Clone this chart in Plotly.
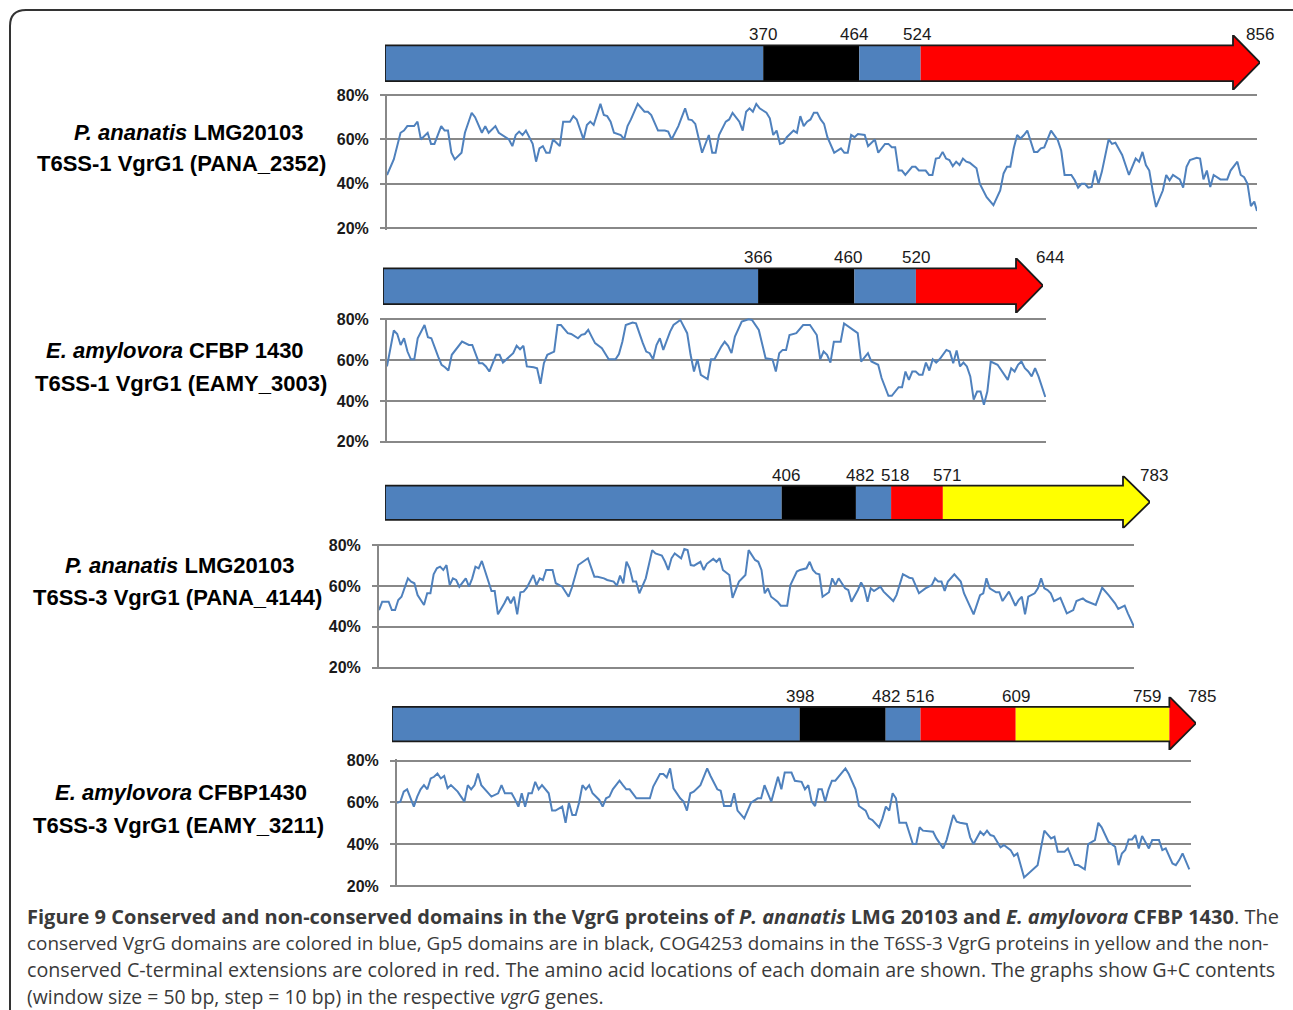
import plotly.graph_objects as go

W, H = 1293, 1010

# ---------------- Data ----------------
gene_len_aa = [856, 644, 783, 785]

# domain boundaries (aa) and domain type of each interval
bounds1 = [0, 370, 464, 524, 856]
types1 = ["VgrG", "Gp5", "VgrG", "extension"]
bounds2 = [0, 366, 460, 520, 644]
types2 = ["VgrG", "Gp5", "VgrG", "extension"]
bounds3 = [0, 406, 482, 518, 571, 783]
types3 = ["VgrG", "Gp5", "VgrG", "extension", "COG4253"]
bounds4 = [0, 398, 482, 516, 609, 759, 785]
types4 = ["VgrG", "Gp5", "VgrG", "extension", "COG4253", "extension"]

species_line1 = ["<b><i>P. ananatis</i> LMG20103</b>",
                 "<b><i>E. amylovora</i> CFBP 1430</b>",
                 "<b><i>P. ananatis</i> LMG20103</b>",
                 "<b><i>E. amylovora</i> CFBP1430</b>"]
species_line2 = ["<b>T6SS-1 VgrG1 (PANA_2352)</b>",
                 "<b>T6SS-1 VgrG1 (EAMY_3003)</b>",
                 "<b>T6SS-3 VgrG1 (PANA_4144)</b>",
                 "<b>T6SS-3 VgrG1 (EAMY_3211)</b>"]

gc_ticks = [20, 40, 60, 80]
gc_ticktext = ["20%", "40%", "60%", "80%"]

# G+C content (window position in bp, % G+C)
gc1_pos = [0, 20, 40, 50, 60, 80, 90, 100, 120, 130,
           140, 160, 170, 180, 190, 200, 220, 230, 250, 260,
           280, 290, 300, 320, 330, 350, 360, 370, 380, 390,
           400, 410, 430, 440, 450, 460, 470, 480, 490, 500,
           510, 520, 540, 550, 560, 580, 590, 600, 610, 630,
           640, 650, 660, 670, 690, 700, 710, 720, 740, 760,
           770, 780, 800, 810, 820, 830, 840, 860, 880, 890,
           900, 910, 930, 950, 960, 970, 980, 1000, 1010, 1020,
           1040, 1050, 1060, 1070, 1080, 1090, 1100, 1120, 1130, 1140,
           1150, 1160, 1170, 1180, 1200, 1210, 1220, 1230, 1240, 1250,
           1260, 1270, 1280, 1290, 1300, 1320, 1340, 1350, 1360, 1370,
           1380, 1390, 1410, 1420, 1440, 1450, 1470, 1480, 1490, 1500,
           1510, 1520, 1530, 1550, 1560, 1570, 1590, 1600, 1610, 1620,
           1630, 1640, 1650, 1660, 1670, 1680, 1690, 1700, 1710, 1720,
           1740, 1750, 1770, 1790, 1810, 1820, 1830, 1840, 1850, 1860,
           1870, 1880, 1890, 1910, 1920, 1930, 1940, 1960, 1970, 1980,
           1990, 2000, 2020, 2030, 2040, 2050, 2060, 2070, 2080, 2090,
           2100, 2110, 2130, 2140, 2150, 2170, 2190, 2210, 2220, 2230,
           2240, 2250, 2260, 2270, 2290, 2300, 2310, 2320, 2340, 2350,
           2360, 2370, 2390, 2400, 2410, 2420, 2430, 2440, 2460, 2480,
           2490, 2510, 2520, 2530, 2540, 2550, 2560, 2568]
gc1_val = [44, 51, 63, 64, 66, 66, 68, 60, 63, 58,
           58, 66, 64, 64, 54, 51, 54, 63, 72, 70,
           63, 66, 63, 66, 63, 61, 60, 57, 62, 63.5,
           62, 64, 58, 50, 56, 57, 54, 54, 60, 58.5,
           57, 68, 68, 70.5, 69, 60, 66.5, 68, 66.5, 76,
           71, 70.5, 68, 63, 62, 60, 66, 69, 76, 72.5,
           72.5, 71, 64, 64, 64, 63.5, 60, 66, 74, 69,
           68.7, 67, 54, 62, 54, 54, 62, 68, 69, 72,
           68, 64, 72.5, 74, 72.5, 76, 74, 72, 69.5, 62,
           64, 58, 58.5, 61, 64, 63, 70.5, 66, 68, 69,
           72, 72, 69, 67, 61, 54, 56, 54, 54, 62,
           61, 62.4, 62, 57, 60, 54, 58, 58, 56.5, 56.5,
           46, 46, 44, 47.7, 47.7, 46, 46, 44, 44, 51.4,
           51.7, 54.4, 51.4, 50.7, 48, 50, 48.5, 51.4, 50, 49.5,
           47, 40, 34, 30.4, 37, 44.7, 47.7, 47.7, 56, 62,
           60.4, 62, 64, 54.4, 54.4, 56, 56.4, 64, 62, 59.7,
           55, 44, 44, 41.6, 38.3, 40, 40, 38.3, 38.6, 46,
           40, 45.4, 60, 58, 58.5, 53, 44, 51.4, 50, 54.4,
           48.5, 46, 37, 29.6, 37, 44, 41.6, 44, 42, 38.3,
           47.7, 50.7, 51.7, 51.4, 42, 46, 38.6, 44, 42, 42,
           46, 50, 44, 43, 40, 30, 32, 27.8]

gc2_pos = [0, 10, 20, 30, 40, 50, 60, 70, 80, 90,
           100, 110, 120, 130, 150, 160, 170, 180, 190, 210,
           220, 240, 250, 270, 280, 290, 300, 320, 330, 340,
           360, 370, 380, 390, 400, 410, 430, 440, 450, 460,
           470, 490, 500, 510, 530, 540, 560, 570, 580, 590,
           600, 610, 630, 650, 670, 680, 690, 700, 720, 730,
           750, 760, 770, 780, 790, 800, 810, 830, 840, 860,
           880, 890, 900, 910, 920, 940, 950, 960, 980, 990,
           1000, 1010, 1020, 1040, 1060, 1070, 1090, 1100, 1110, 1130,
           1140, 1150, 1160, 1170, 1180, 1200, 1220, 1240, 1260, 1270,
           1280, 1290, 1300, 1310, 1330, 1340, 1360, 1380, 1390, 1410,
           1420, 1440, 1450, 1470, 1480, 1500, 1510, 1520, 1530, 1540,
           1550, 1560, 1570, 1580, 1590, 1600, 1610, 1620, 1640, 1650,
           1660, 1670, 1680, 1690, 1700, 1710, 1720, 1730, 1740, 1750,
           1760, 1770, 1790, 1800, 1820, 1830, 1840, 1850, 1860, 1870,
           1880, 1890, 1900, 1910, 1920, 1930]
gc2_val = [56.9, 65, 74.5, 72.8, 67.4, 70.7, 64.2, 60.4, 60.4, 70.7,
           74, 77.2, 71.2, 70.7, 61.7, 57.7, 56.5, 54.9, 62.6, 66.6,
           69.1, 67.4, 67.4, 58.5, 58.5, 56.9, 54.4, 62.6, 62.6, 58.8,
           61.7, 63.4, 67, 65.3, 67, 56.9, 56.5, 56, 48.4, 58.5,
           62.6, 64.2, 77.2, 77.2, 73.2, 72.8, 70.7, 72.4, 72.8, 74.8,
           71.5, 68.3, 65.8, 60.4, 60.4, 63, 69, 77.2, 78.4, 78,
           68.3, 64.2, 63.4, 60.4, 67.4, 70.7, 65, 74, 77.2, 79.7,
           73.2, 62.6, 54.4, 60.4, 52.8, 50.7, 60.4, 60.4, 66.6, 69,
           67, 63.4, 71.5, 78.9, 80, 79.7, 74.8, 68.3, 60.9, 60.4,
           54.4, 63.4, 65, 65, 72.3, 73.2, 77.2, 77.2, 72.3, 60.4,
           64.2, 62.6, 58.8, 69, 69, 78, 75.6, 73.2, 59.3, 63.4,
           59.3, 57.7, 51.2, 42.5, 42.5, 46.7, 46.7, 54.4, 50.3, 54.4,
           54.4, 52.8, 52.8, 58.8, 54.9, 60.4, 58.8, 60.4, 65, 64.2,
           58.5, 64.7, 56.9, 58.8, 56.9, 52, 40.6, 44.6, 44.6, 38.1,
           44.6, 59.3, 57.7, 55.2, 50.3, 56, 54.4, 57.7, 59.3, 56,
           54.4, 52, 56, 52, 46.3, 41.9]

gc3_pos = [0, 10, 30, 40, 50, 60, 70, 90, 100, 110,
           120, 140, 150, 160, 170, 180, 190, 200, 210, 220,
           230, 240, 250, 270, 280, 290, 300, 310, 320, 330,
           350, 360, 370, 390, 400, 410, 420, 430, 440, 450,
           460, 480, 490, 500, 510, 520, 540, 550, 570, 590,
           600, 620, 640, 650, 670, 680, 700, 710, 730, 740,
           750, 760, 770, 780, 790, 800, 810, 830, 850, 860,
           880, 890, 900, 910, 920, 940, 950, 960, 970, 980,
           1000, 1010, 1020, 1040, 1050, 1060, 1070, 1090, 1100, 1120,
           1140, 1150, 1170, 1180, 1190, 1200, 1210, 1220, 1240, 1250,
           1270, 1280, 1300, 1310, 1330, 1340, 1350, 1360, 1370, 1380,
           1400, 1410, 1420, 1430, 1450, 1460, 1470, 1490, 1500, 1510,
           1520, 1530, 1540, 1560, 1570, 1580, 1600, 1610, 1630, 1650,
           1660, 1680, 1700, 1720, 1730, 1740, 1750, 1760, 1770, 1790,
           1810, 1820, 1850, 1870, 1880, 1890, 1900, 1920, 1930, 1940,
           1960, 1980, 1990, 2000, 2010, 2020, 2040, 2050, 2060, 2070,
           2080, 2090, 2100, 2120, 2140, 2160, 2170, 2190, 2200, 2230,
           2240, 2250, 2270, 2290, 2300, 2320, 2330, 2349]
gc3_val = [48.2, 52.3, 52.3, 48.2, 48.2, 53.1, 54.7, 63.7, 62.1, 61.3,
           55.5, 50.7, 56.4, 56.4, 65.7, 68.6, 69.4, 67.8, 70.2, 60.4,
           63.7, 62.9, 59.6, 63.7, 59.6, 63.7, 69.4, 68.6, 72.2, 67,
           57.5, 57.5, 46.1, 51.5, 54.7, 51.5, 54.7, 46.1, 56.9, 57.2,
           59.1, 65.3, 60.4, 63.7, 62.9, 67.8, 67.8, 61.3, 59.6, 54.7,
           59.1, 70.2, 72.2, 73.5, 64.5, 64.5, 63.7, 62.9, 62.1, 60.1,
           65, 61.3, 71.8, 68.6, 62.1, 62.1, 56.4, 63.7, 77.5, 75.9,
           74.8, 71.8, 67.8, 73.5, 75.9, 73.5, 78, 77.5, 70.2, 69.9,
           71.8, 67.8, 70.8, 73.2, 71.8, 73.5, 67.8, 65.3, 54.2, 62.1,
           65.3, 77.5, 72.7, 71.8, 67.8, 56.4, 58.8, 54.7, 52.3, 50.3,
           50.3, 60.4, 67, 67.8, 68.6, 71.8, 67.8, 66.1, 65.7, 54.7,
           56.9, 63.7, 60.4, 63.7, 58.8, 58, 52.3, 58, 61.7, 58.8,
           52.3, 58.8, 57.5, 59.6, 57.2, 55.5, 52.6, 55.5, 65.7, 64,
           63.7, 56.4, 58.8, 60.4, 63.7, 62.1, 62.1, 57.5, 62.1, 65.7,
           62.1, 56.4, 46.1, 55.5, 56.4, 63.7, 58.8, 56.9, 56.9, 52.6,
           57.2, 50.3, 53.1, 54.7, 46.1, 54.7, 56.4, 58.8, 63.7, 58.8,
           58, 56.4, 52.6, 54.2, 46.6, 48.2, 52.6, 53.9, 52.6, 50.7,
           54.7, 59.1, 55.5, 51.5, 48.7, 50.3, 46.6, 40.1]

gc4_pos = [0, 10, 20, 30, 50, 60, 70, 80, 90, 100,
           110, 120, 130, 140, 150, 160, 180, 200, 210, 220,
           230, 240, 250, 270, 280, 300, 310, 320, 340, 350,
           360, 370, 380, 390, 400, 410, 420, 430, 450, 460,
           470, 490, 500, 510, 520, 530, 540, 550, 560, 570,
           580, 600, 610, 620, 630, 640, 660, 670, 680, 690,
           710, 750, 760, 780, 790, 800, 810, 820, 840, 850,
           860, 870, 880, 900, 920, 930, 950, 960, 970, 990,
           1000, 1010, 1030, 1050, 1070, 1080, 1090, 1110, 1120, 1130,
           1140, 1150, 1170, 1180, 1200, 1210, 1220, 1230, 1240, 1250,
           1260, 1270, 1280, 1290, 1300, 1330, 1340, 1360, 1370, 1390,
           1400, 1410, 1430, 1440, 1450, 1460, 1470, 1480, 1490, 1510,
           1530, 1540, 1550, 1560, 1590, 1600, 1620, 1630, 1650, 1660,
           1670, 1690, 1700, 1710, 1730, 1740, 1750, 1760, 1770, 1790,
           1800, 1820, 1830, 1840, 1860, 1880, 1900, 1920, 1930, 1940,
           1950, 1960, 1980, 1990, 2010, 2020, 2040, 2050, 2070, 2080,
           2090, 2110, 2130, 2140, 2150, 2160, 2170, 2180, 2190, 2200,
           2210, 2230, 2240, 2260, 2270, 2280, 2300, 2310, 2320, 2330,
           2350]
gc4_val = [59.9, 60.4, 65.2, 66.3, 58, 62.8, 66.3, 68.3, 66.3, 71.5,
           72.3, 73.9, 71.5, 72.7, 66.8, 68.3, 65.2, 60.4, 68.3, 66.3,
           68.3, 73.9, 68.3, 64.4, 62.8, 64.4, 68.3, 64.4, 64.4, 61.5,
           58, 64.4, 58, 64.4, 64.4, 69.9, 66.3, 68.3, 64.4, 56.1,
           56.1, 58, 50.3, 59.9, 54, 54, 59.9, 68.3, 66.3, 68.3,
           64.4, 61.2, 58, 62, 62.8, 66.3, 70.4, 68.3, 66.3, 66.3,
           62, 62, 67.6, 73.6, 73.6, 72, 76.3, 66.8, 62, 60.4,
           56.1, 64.4, 65.2, 68.3, 76.3, 72.7, 66.3, 65.6, 58.3, 58.3,
           64.4, 56.1, 52.4, 59.9, 62, 62, 68.3, 60.4, 66.3, 72.3,
           66.3, 74.3, 74.3, 70.4, 69.9, 66.3, 68.3, 60.4, 58.3, 66.3,
           66.3, 60.4, 66.3, 70.4, 70.4, 76.3, 73.6, 66.3, 58.3, 56.1,
           52.4, 51.6, 48.1, 52.4, 58, 56.1, 64.4, 62, 50.3, 50.3,
           40.1, 40.1, 48.1, 46.5, 46, 42.8, 38, 42, 54, 50.8,
           50.3, 49.7, 43.3, 40.1, 46, 44.4, 46.5, 44.4, 43.9, 38.5,
           39.6, 37.2, 34.4, 35.6, 24.1, 26.9, 30, 46.5, 44.4, 42.8,
           43.6, 36.4, 36.4, 38, 30, 30, 28, 40.1, 42, 50.3,
           48.1, 41.2, 38.8, 30, 35.6, 37.2, 42.3, 42.3, 44.4, 38,
           43.9, 38, 42, 42, 37.2, 38, 30.8, 30, 32.4, 35.6,
           28]

caption_lines = [
    "<b>Figure 9 Conserved and non-conserved domains in the VgrG proteins of "
    "<i>P. ananatis</i> LMG 20103 and <i>E. amylovora</i> CFBP 1430</b>. The",
    "conserved VgrG domains are colored in blue, Gp5 domains are in black, COG4253 "
    "domains in the T6SS-3 VgrG proteins in yellow and the non-",
    "conserved C-terminal extensions are colored in red. The amino acid locations of "
    "each domain are shown. The graphs show G+C contents",
    "(window size = 50 bp, step = 10 bp) in the respective <i>vgrG</i> genes.",
]

# ---------------- Style / layout ----------------
domain_colors = {"VgrG": "#4f81bd", "Gp5": "#000000",
                 "extension": "#ff0000", "COG4253": "#ffff00"}
LINE_BLUE = "#4f81bd"
GRID = "#888888"

# pixel boxes (left, right, top(80%), bottom(20%)) for the G+C plots
gc_boxes = [(387, 1257, 95.0, 228.3), (387, 1046, 319.3, 441.7),
            (379, 1134, 545.0, 667.7), (397, 1191, 760.7, 886.0)]
Y_PAD = 0.6  # range padding (%) so that the 20 % and 80 % grid lines show
# pixel boxes for the domain arrows (left, tip, head top, head bottom)
arrow_boxes = [(385, 1260, 35, 90), (383, 1043, 258, 313),
               (385, 1150, 475.7, 528.3), (392, 1196, 696.7, 750)]
BODY_BOT, BODY_TOP = 0.16, 0.81
HEAD_PX = 27
label_shift = {(0, 464): -5, (0, 524): -4, (1, 460): -6, (1, 644): 7,
               (2, 406): 4, (2, 482): 4, (2, 518): 4, (2, 571): 4,
               (2, 783): 4, (3, 759): -22, (3, 785): 6}
species_pos = [((189, 132), (181, 163)), ((175, 350), (181, 383)),
               ((180, 565), (177, 597)), ((181, 792), (178, 825))]
caption_y = [916, 943, 969, 996]
caption_size = [20.0, 18.9, 19.7, 19.4]


def px(x):
    return x / W


def py(y):
    return 1 - y / H


fig = go.Figure()
gc_pos = [gc1_pos, gc2_pos, gc3_pos, gc4_pos]
gc_val = [gc1_val, gc2_val, gc3_val, gc4_val]
all_bounds = [bounds1, bounds2, bounds3, bounds4]
all_types = [types1, types2, types3, types4]

annotations = []
layout_axes = {}

for k in range(4):
    n = k + 1
    sfx = "" if n == 1 else str(n)
    L_bp = gene_len_aa[k] * 3
    l, r, t, b = gc_boxes[k]
    ppp = (b - t) / 60.0
    layout_axes["xaxis" + sfx] = dict(domain=[px(l), px(r)], range=[0, L_bp],
                                      visible=False, anchor="y" + sfx, fixedrange=True)
    layout_axes["yaxis" + sfx] = dict(
        domain=[py(b + Y_PAD * ppp), py(t - Y_PAD * ppp)],
        range=[20 - Y_PAD, 80 + Y_PAD], anchor="x" + sfx,
        tickvals=gc_ticks, ticktext=gc_ticktext, showgrid=True, gridcolor=GRID,
        gridwidth=2, showline=True, linecolor=GRID, linewidth=2, ticks="outside",
        ticklen=5, tickwidth=2, tickcolor=GRID, zeroline=False, fixedrange=True,
        ticklabelstandoff=8,
        tickfont=dict(family="Liberation Sans", size=16, color="#1a1a1a", weight="bold"))
    fig.add_trace(go.Scatter(x=gc_pos[k], y=gc_val[k], mode="lines",
                             line=dict(color=LINE_BLUE, width=2),
                             xaxis="x" + sfx, yaxis="y" + sfx, hoverinfo="skip",
                             showlegend=False))

    # ---- domain arrow ----
    asfx = str(n + 4)
    L = gene_len_aa[k]
    al, ar, at, ab = arrow_boxes[k]
    layout_axes["xaxis" + asfx] = dict(domain=[px(al), px(ar)], range=[0, L],
                                       visible=False, anchor="y" + asfx, fixedrange=True)
    layout_axes["yaxis" + asfx] = dict(domain=[py(ab), py(at)], range=[0, 1],
                                       visible=False, anchor="x" + asfx, fixedrange=True)
    aa_per_px = L / (ar - al)
    hs = L - HEAD_PX * aa_per_px
    bounds = all_bounds[k]
    if bounds[-2] > hs - 3 * aa_per_px:
        hs = bounds[-2]

    def head_top(x):
        return 0.5 + 0.5 * (L - x) / (L - hs)

    def head_bot(x):
        return 0.5 - 0.5 * (L - x) / (L - hs)

    for (a, bnd, typ) in zip(bounds[:-1], bounds[1:], all_types[k]):
        if bnd <= hs:
            xs = [a, bnd, bnd, a, a]
            ys = [BODY_BOT, BODY_BOT, BODY_TOP, BODY_TOP, BODY_BOT]
        elif a < hs:
            xs = [a, hs, hs, bnd, bnd, hs, hs, a, a]
            ys = [BODY_BOT, BODY_BOT, 0, head_bot(bnd), head_top(bnd), 1,
                  BODY_TOP, BODY_TOP, BODY_BOT]
        else:
            xs = [a, bnd, bnd, a, a]
            ys = [head_bot(a), head_bot(bnd), head_top(bnd), head_top(a), head_bot(a)]
        fig.add_trace(go.Scatter(x=xs, y=ys, mode="lines", fill="toself",
                                 fillcolor=domain_colors[typ], line=dict(width=0),
                                 xaxis="x" + asfx, yaxis="y" + asfx,
                                 hoverinfo="skip", showlegend=False))
    fig.add_trace(go.Scatter(
        x=[0, hs, hs, L, hs, hs, 0, 0],
        y=[BODY_BOT, BODY_BOT, 0, 0.5, 1, BODY_TOP, BODY_TOP, BODY_BOT],
        mode="lines", line=dict(color="#1a1a1a", width=1.8),
        xaxis="x" + asfx, yaxis="y" + asfx, hoverinfo="skip", showlegend=False))
    for v in bounds[1:]:
        annotations.append(dict(
            x=v, y=BODY_TOP, xref="x" + asfx, yref="y" + asfx, text=str(v),
            showarrow=False, xanchor="center", yanchor="bottom",
            xshift=label_shift.get((k, v), 0), yshift=-1,
            font=dict(family="Liberation Sans", size=17, color="#1a1a1a")))

    (x1, y1), (x2, y2) = species_pos[k]
    for (sx, sy, txt) in [(x1, y1, species_line1[k]), (x2, y2, species_line2[k])]:
        annotations.append(dict(
            x=px(sx), y=py(sy), xref="paper", yref="paper", text=txt,
            showarrow=False, xanchor="center", yanchor="middle",
            font=dict(family="Liberation Sans", size=22, color="#000000")))

for txt, cy, fs in zip(caption_lines, caption_y, caption_size):
    annotations.append(dict(
        x=px(25), y=py(cy), xref="paper", yref="paper", text=txt, showarrow=False,
        xanchor="left", yanchor="middle", align="left",
        font=dict(family="Open Sans", size=fs, color="#3a3a3a")))

r = 16
frame = (f"M {px(10)},{py(1015)} L {px(10)},{py(10 + r)} "
         f"Q {px(10)},{py(10)} {px(10 + r)},{py(10)} L {px(1300)},{py(10)}")

fig.update_layout(
    width=W, height=H, autosize=False,
    margin=dict(l=0, r=0, t=0, b=0, pad=0, autoexpand=False),
    paper_bgcolor="white", plot_bgcolor="white", showlegend=False,
    annotations=annotations,
    shapes=[dict(type="path", path=frame, xref="paper", yref="paper",
                 line=dict(color="#333333", width=2))],
    **layout_axes,
)

fig.write_html("out.html", config={"displayModeBar": False},
               post_script="document.body.style.margin='0';document.body.style.overflow='hidden';")
